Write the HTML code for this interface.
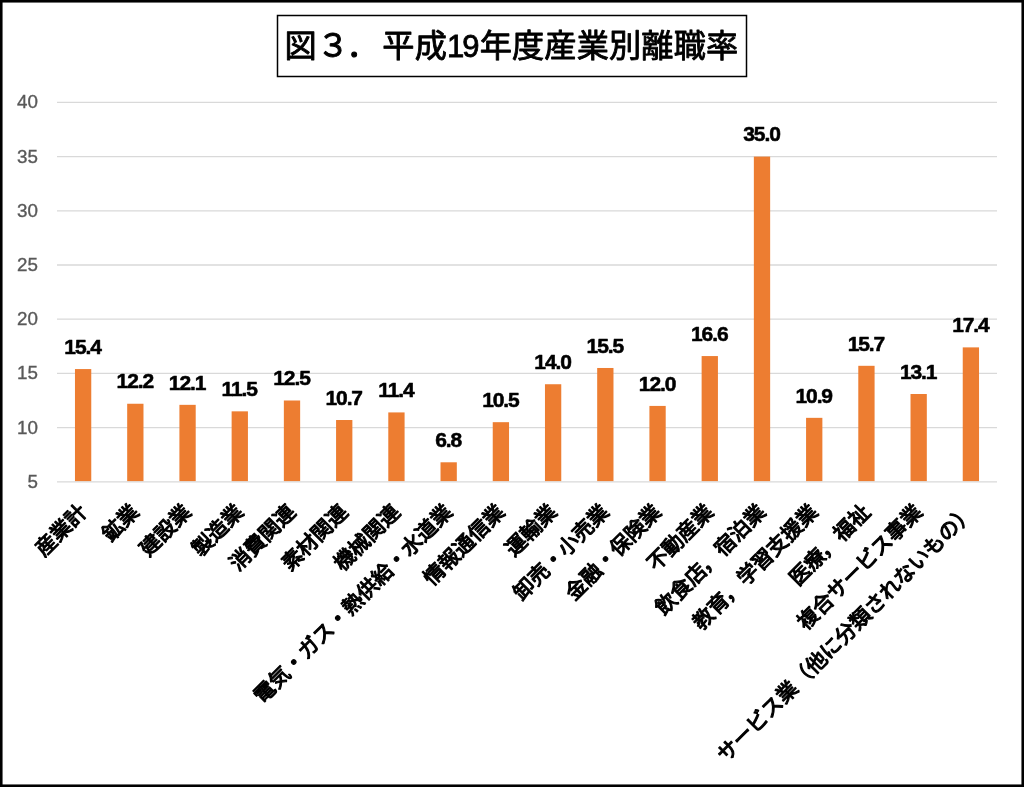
<!DOCTYPE html>
<html lang="ja"><head><meta charset="utf-8"><title>図３．平成19年度産業別離職率</title>
<style>
html,body{margin:0;padding:0;background:#fff;}
body{width:1024px;height:787px;overflow:hidden;position:relative;font-family:"Liberation Sans","Noto Sans CJK JP",sans-serif;}
svg{position:absolute;left:0;top:0;}
.yl{font-family:"Liberation Sans",sans-serif;font-size:18.8px;fill:#595959;stroke:#595959;stroke-width:0.35px;text-anchor:end;}
.dl{font-family:"Liberation Sans",sans-serif;font-size:21px;font-weight:700;fill:#000;stroke:#000;stroke-width:0.55px;stroke-linejoin:round;text-anchor:middle;letter-spacing:-1.1px;}
.xl{font-family:"Liberation Sans","Noto Sans CJK JP",sans-serif;font-size:20.8px;font-weight:400;fill:#000;stroke:#000;stroke-width:1.15px;stroke-linejoin:round;text-anchor:end;}
.tt{font-family:"Liberation Sans","Noto Sans CJK JP",sans-serif;font-size:32.2px;font-weight:400;fill:#000;stroke:#000;stroke-width:0.9px;stroke-linejoin:round;text-anchor:start;}
.tn{font-family:"Liberation Sans",sans-serif;font-size:31px;font-weight:400;fill:#000;stroke:#000;stroke-width:0.8px;letter-spacing:-2px;text-anchor:start;}
.t1{letter-spacing:0.4px}.t3{letter-spacing:0.15px}
</style></head><body>
<svg width="1024" height="787" viewBox="0 0 1024 787">
<rect x="0" y="0" width="1024" height="787" fill="#fff"/>

<line x1="57.0" y1="481.80" x2="997.0" y2="481.80" stroke="#d9d9d9" stroke-width="1.3"/>
<text class="yl" x="38" y="487.70">5</text>
<line x1="57.0" y1="427.60" x2="997.0" y2="427.60" stroke="#d9d9d9" stroke-width="1.3"/>
<text class="yl" x="38" y="433.50">10</text>
<line x1="57.0" y1="373.40" x2="997.0" y2="373.40" stroke="#d9d9d9" stroke-width="1.3"/>
<text class="yl" x="38" y="379.30">15</text>
<line x1="57.0" y1="319.20" x2="997.0" y2="319.20" stroke="#d9d9d9" stroke-width="1.3"/>
<text class="yl" x="38" y="325.10">20</text>
<line x1="57.0" y1="265.00" x2="997.0" y2="265.00" stroke="#d9d9d9" stroke-width="1.3"/>
<text class="yl" x="38" y="270.90">25</text>
<line x1="57.0" y1="210.80" x2="997.0" y2="210.80" stroke="#d9d9d9" stroke-width="1.3"/>
<text class="yl" x="38" y="216.70">30</text>
<line x1="57.0" y1="156.60" x2="997.0" y2="156.60" stroke="#d9d9d9" stroke-width="1.3"/>
<text class="yl" x="38" y="162.50">35</text>
<line x1="57.0" y1="102.40" x2="997.0" y2="102.40" stroke="#d9d9d9" stroke-width="1.3"/>
<text class="yl" x="38" y="108.30">40</text>
<rect x="74.96" y="369.06" width="16.3" height="112.04" fill="#ED7D31"/>
<text class="dl" x="82.61" y="353.76">15.4</text>
<text class="xl" transform="translate(88.11 513.30) rotate(-45)">産業計</text>
<rect x="127.18" y="403.75" width="16.3" height="77.35" fill="#ED7D31"/>
<text class="dl" x="134.83" y="388.45">12.2</text>
<text class="xl" transform="translate(140.33 513.30) rotate(-45)">鉱業</text>
<rect x="179.41" y="404.84" width="16.3" height="76.26" fill="#ED7D31"/>
<text class="dl" x="187.06" y="389.54">12.1</text>
<text class="xl" transform="translate(192.56 513.30) rotate(-45)">建設業</text>
<rect x="231.63" y="411.34" width="16.3" height="69.76" fill="#ED7D31"/>
<text class="dl" x="239.28" y="396.04">11.5</text>
<text class="xl" transform="translate(244.78 513.30) rotate(-45)">製造業</text>
<rect x="283.85" y="400.50" width="16.3" height="80.60" fill="#ED7D31"/>
<text class="dl" x="291.50" y="385.20">12.5</text>
<text class="xl" transform="translate(297.00 513.30) rotate(-45)">消費関連</text>
<rect x="336.07" y="420.01" width="16.3" height="61.09" fill="#ED7D31"/>
<text class="dl" x="343.72" y="404.71">10.7</text>
<text class="xl" transform="translate(349.22 513.30) rotate(-45)">素材関連</text>
<rect x="388.29" y="412.42" width="16.3" height="68.68" fill="#ED7D31"/>
<text class="dl" x="395.94" y="397.12">11.4</text>
<text class="xl" transform="translate(401.44 513.30) rotate(-45)">機械関連</text>
<rect x="440.52" y="462.29" width="16.3" height="18.81" fill="#ED7D31"/>
<text class="dl" x="448.17" y="446.99">6.8</text>
<text class="xl" transform="translate(453.67 513.30) rotate(-45)">電気・ガス・熱供給・水道業</text>
<rect x="492.74" y="422.18" width="16.3" height="58.92" fill="#ED7D31"/>
<text class="dl" x="500.39" y="406.88">10.5</text>
<text class="xl" transform="translate(505.89 513.30) rotate(-45)">情報通信業</text>
<rect x="544.96" y="384.24" width="16.3" height="96.86" fill="#ED7D31"/>
<text class="dl" x="552.61" y="368.94">14.0</text>
<text class="xl" transform="translate(558.11 513.30) rotate(-45)">運輸業</text>
<rect x="597.18" y="367.98" width="16.3" height="113.12" fill="#ED7D31"/>
<text class="dl" x="604.83" y="352.68">15.5</text>
<text class="xl" transform="translate(610.33 513.30) rotate(-45)">卸売・小売業</text>
<rect x="649.41" y="405.92" width="16.3" height="75.18" fill="#ED7D31"/>
<text class="dl" x="657.06" y="390.62">12.0</text>
<text class="xl" transform="translate(662.56 513.30) rotate(-45)">金融・保険業</text>
<rect x="701.63" y="356.06" width="16.3" height="125.04" fill="#ED7D31"/>
<text class="dl" x="709.28" y="340.76">16.6</text>
<text class="xl" transform="translate(714.78 513.30) rotate(-45)">不動産業</text>
<rect x="753.85" y="156.60" width="16.3" height="324.50" fill="#ED7D31"/>
<text class="dl" x="761.50" y="141.30">35.0</text>
<text class="xl" transform="translate(767.00 513.30) rotate(-45)">飲食店<tspan dx="-2">，</tspan><tspan dx="2">宿泊業</tspan></text>
<rect x="806.07" y="417.84" width="16.3" height="63.26" fill="#ED7D31"/>
<text class="dl" x="813.72" y="402.54">10.9</text>
<text class="xl" transform="translate(819.22 513.30) rotate(-45)">教育<tspan dx="-2">，</tspan><tspan dx="2">学習支援業</tspan></text>
<rect x="858.29" y="365.81" width="16.3" height="115.29" fill="#ED7D31"/>
<text class="dl" x="865.94" y="350.51">15.7</text>
<text class="xl" transform="translate(871.44 513.30) rotate(-45)">医療<tspan dx="-2">，</tspan><tspan dx="2">福祉</tspan></text>
<rect x="910.52" y="394.00" width="16.3" height="87.10" fill="#ED7D31"/>
<text class="dl" x="918.17" y="378.70">13.1</text>
<text class="xl" transform="translate(923.67 513.30) rotate(-45)">複合サービス事業</text>
<rect x="962.74" y="347.38" width="16.3" height="133.72" fill="#ED7D31"/>
<text class="dl" x="970.39" y="332.08">17.4</text>
<text class="xl" transform="translate(975.89 513.30) rotate(-45)">サービス業（他に分類されないもの）</text>
<rect x="277.5" y="15.5" width="469" height="61" fill="#fff" stroke="#000" stroke-width="1.5"/>
<text y="56.8"><tspan class="tt t1" x="284.5">図３</tspan><tspan class="tt t1" dx="-3.2">．</tspan><tspan class="tt t1" dx="3.2">平成</tspan><tspan class="tn" x="447">19</tspan><tspan class="tt t3" x="479.7">年度産業別離職率</tspan></text>
<rect x="1.28" y="1.28" width="1021.44" height="784.44" fill="none" stroke="#000" stroke-width="2.56"/>
</svg>
</body></html>
